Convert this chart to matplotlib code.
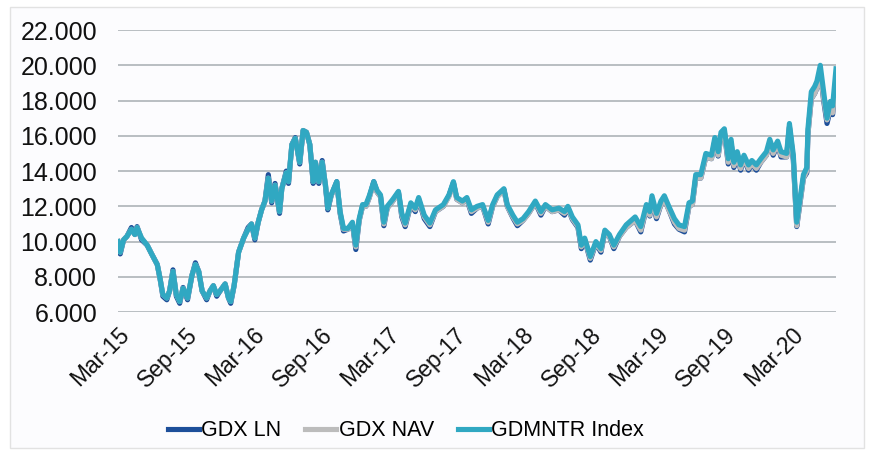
import numpy as np
import pandas as pd
import matplotlib
matplotlib.use("Agg")
import matplotlib.pyplot as plt
import matplotlib.dates as mdates
from matplotlib.patches import Rectangle

plt.rcParams["font.family"] = ["Liberation Sans", "DejaVu Sans"]

# months elapsed since 1 Mar 2015
months = [
    0, 0.2, 0.5, 0.8, 1.2, 1.5, 1.7, 2.1, 2.6, 3.0,
    3.5, 3.75, 4.0, 4.35, 4.6, 4.9, 5.2, 5.5, 5.8, 6.2,
    6.6, 6.9, 7.2, 7.5, 7.9, 8.2, 8.5, 8.8, 9.1, 9.55,
    9.85, 10.05, 10.35, 10.75, 11.2, 11.6, 11.9, 12.2, 12.5, 12.8,
    13.1, 13.4, 13.7, 14.0, 14.4, 14.6, 15.0, 15.2, 15.5, 15.8,
    16.2, 16.5, 16.8, 17.1, 17.4, 17.6, 17.9, 18.2, 18.5, 18.7,
    19.0, 19.5, 19.8, 20.1, 20.5, 20.9, 21.2, 21.5, 21.8, 22.1,
    22.4, 22.8, 23.1, 23.4, 23.7, 24.0, 24.5, 25.0, 25.3, 25.6,
    26.1, 26.5, 26.8, 27.3, 27.8, 28.3, 29.0, 29.5, 29.9, 30.2,
    30.7, 31.1, 31.5, 32.0, 32.5, 33.0, 33.4, 33.8, 34.4, 34.7,
    35.2, 35.6, 36.1, 36.6, 37.2, 37.7, 38.1, 38.7, 39.3, 39.8,
    40.1, 40.5, 41.0, 41.3, 41.6, 42.1, 42.6, 43.05, 43.4, 43.8,
    44.2, 44.7, 45.3, 46.1, 46.6, 47.1, 47.4, 47.6, 48.0, 48.4,
    48.7, 49.1, 49.6, 50.0, 50.5, 50.9, 51.2, 51.5, 51.95, 52.4,
    52.9, 53.2, 53.5, 53.75, 54.05, 54.4, 54.65, 54.9, 55.2, 55.5,
    55.8, 56.2, 56.5, 56.9, 57.3, 57.8, 58.1, 58.4, 58.8, 59.1,
    59.6, 59.85, 60.2, 60.5, 60.8, 61.1, 61.4, 61.5, 61.8, 62.1,
    62.3, 62.6, 62.9, 63.2, 63.5, 63.7, 64.0,
]

# levels in thousands (rebased to 10.000)
gdx_ln = [
    10.0, 9.3, 10.1, 10.3, 10.8, 10.4, 10.85, 10.1, 9.8, 9.3,
    8.7, 7.9, 6.9, 6.7, 7.2, 8.4, 6.9, 6.5, 7.4, 6.7,
    8.1, 8.8, 8.3, 7.2, 6.7, 7.2, 7.5, 6.9, 7.2, 7.6,
    6.8, 6.5, 7.5, 9.4, 10.2, 10.8, 11.0, 10.1, 11.1, 11.8,
    12.3, 13.8, 12.2, 13.3, 11.6, 13.0, 14.0, 13.3, 15.5, 15.9,
    14.4, 16.3, 16.2, 15.5, 13.3, 14.5, 13.3, 14.6, 13.1, 11.8,
    12.6, 13.4, 11.6, 10.6, 10.7, 11.0, 9.55, 11.2, 12.0, 12.0,
    12.5, 13.4, 12.8, 12.55, 10.9, 11.9, 12.3, 12.8, 11.4, 10.85,
    12.1, 11.7, 12.4, 11.3, 10.85, 11.7, 12.0, 12.6, 13.35, 12.4,
    12.2, 12.4, 11.6, 11.9, 12.0, 11.0, 12.0, 12.55, 12.95, 12.0,
    11.35, 10.9, 11.2, 11.6, 12.2, 11.5, 12.0, 11.7, 11.8, 11.5,
    11.9, 11.25, 10.8, 9.6, 10.1, 8.95, 9.9, 9.4, 10.55, 10.3,
    9.6, 10.3, 10.8, 11.2, 10.55, 11.9, 11.45, 12.4, 11.3, 12.1,
    12.4, 11.8, 11.0, 10.7, 10.55, 12.0, 12.1, 13.6, 13.6, 14.8,
    14.7, 15.7, 14.85, 16.0, 16.2, 14.4, 15.6, 14.2, 14.9, 14.05,
    14.7, 14.05, 14.4, 14.05, 14.5, 14.9, 15.6, 14.9, 15.5, 14.8,
    14.8, 16.5, 14.6, 10.85, 12.2, 13.6, 13.9, 16.1, 18.1, 18.4,
    18.7, 19.6, 18.0, 16.7, 17.5, 17.2, 19.2,
]

gdx_nav = [
    10.0, 9.4, 10.1, 10.3, 10.7, 10.4, 10.8, 10.2, 9.8, 9.3,
    8.7, 7.9, 7.0, 6.8, 7.2, 8.3, 7.0, 6.6, 7.35, 6.8,
    8.1, 8.7, 8.3, 7.2, 6.8, 7.2, 7.5, 7.0, 7.2, 7.6,
    6.8, 6.6, 7.5, 9.4, 10.2, 10.7, 11.0, 10.2, 11.1, 11.8,
    12.3, 13.6, 12.3, 13.2, 11.7, 13.0, 13.9, 13.4, 15.5, 15.85,
    14.5, 16.3, 16.2, 15.5, 13.4, 14.5, 13.4, 14.5, 13.2, 11.9,
    12.6, 13.35, 11.65, 10.7, 10.7, 11.0, 9.7, 11.2, 12.0, 12.0,
    12.5, 13.3, 12.8, 12.55, 11.0, 11.9, 12.3, 12.75, 11.5, 10.95,
    12.1, 11.8, 12.4, 11.4, 10.95, 11.7, 12.0, 12.55, 13.3, 12.4,
    12.2, 12.4, 11.7, 11.9, 12.0, 11.1, 12.0, 12.55, 12.9, 12.0,
    11.4, 11.0, 11.2, 11.6, 12.2, 11.6, 12.0, 11.7, 11.8, 11.6,
    11.9, 11.3, 10.85, 9.7, 10.1, 9.05, 9.9, 9.5, 10.55, 10.3,
    9.7, 10.3, 10.8, 11.2, 10.65, 11.9, 11.5, 12.4, 11.4, 12.1,
    12.4, 11.8, 11.1, 10.75, 10.65, 12.0, 12.1, 13.6, 13.6, 14.8,
    14.7, 15.7, 14.9, 16.0, 16.2, 14.5, 15.6, 14.3, 14.9, 14.15,
    14.7, 14.15, 14.4, 14.15, 14.5, 14.9, 15.6, 15.0, 15.5, 14.9,
    14.8, 16.5, 14.7, 10.9, 12.25, 13.6, 14.0, 16.1, 18.1, 18.4,
    18.7, 19.6, 18.1, 16.9, 17.5, 17.3, 19.2,
]

gdmntr = [
    10.0, 9.4, 10.1, 10.3, 10.7, 10.4, 10.8, 10.2, 9.8, 9.3,
    8.7, 7.9, 7.0, 6.8, 7.2, 8.3, 7.0, 6.6, 7.35, 6.8,
    8.1, 8.7, 8.3, 7.2, 6.8, 7.2, 7.5, 7.0, 7.2, 7.6,
    6.8, 6.6, 7.5, 9.4, 10.2, 10.7, 11.0, 10.2, 11.1, 11.8,
    12.3, 13.6, 12.3, 13.2, 11.7, 13.0, 13.9, 13.4, 15.5, 15.85,
    14.5, 16.3, 16.2, 15.5, 13.4, 14.5, 13.4, 14.5, 13.2, 11.9,
    12.65, 13.4, 11.7, 10.75, 10.75, 11.1, 9.8, 11.3, 12.1, 12.1,
    12.6, 13.4, 12.9, 12.65, 11.1, 12.0, 12.4, 12.85, 11.6, 11.05,
    12.2, 11.9, 12.5, 11.5, 11.05, 11.8, 12.1, 12.65, 13.4, 12.5,
    12.3, 12.5, 11.8, 12.0, 12.1, 11.2, 12.1, 12.65, 13.0, 12.1,
    11.5, 11.1, 11.3, 11.7, 12.3, 11.7, 12.1, 11.8, 11.9, 11.7,
    12.0, 11.4, 10.95, 9.8, 10.2, 9.15, 10.0, 9.6, 10.65, 10.4,
    9.8, 10.4, 10.95, 11.4, 10.85, 12.1, 11.7, 12.6, 11.6, 12.3,
    12.6, 12.0, 11.3, 10.95, 10.85, 12.2, 12.3, 13.8, 13.8, 15.0,
    14.9, 15.9, 15.1, 16.2, 16.4, 14.7, 15.8, 14.5, 15.1, 14.35,
    14.9, 14.35, 14.6, 14.35, 14.7, 15.1, 15.8, 15.2, 15.7, 15.1,
    15.0, 16.7, 14.9, 11.1, 12.45, 13.8, 14.2, 16.4, 18.5, 18.8,
    19.1, 20.0, 18.5, 17.0, 17.95, 17.7, 19.8,
]

labels = ["GDX LN", "GDX NAV", "GDMNTR Index"]
colors = ["#1d4f9a", "#bcbcbc", "#30a8c2"]
yticks = [6, 8, 10, 12, 14, 16, 18, 20, 22]

start = pd.Timestamp("2015-03-01")
dates = start + pd.to_timedelta(np.array(months) * 30.44, unit="D")
xticks = pd.date_range("2015-03-01", "2020-03-01", freq="6MS")

fig = plt.figure(figsize=(8.74, 4.55), dpi=100)
fig.patch.set_facecolor("white")
fig.patches.append(Rectangle((0.012, 0.015), 0.976, 0.97, transform=fig.transFigure,
                             facecolor="#fcfcfe", edgecolor="#e2e2e2", lw=1, zorder=-10))
ax = fig.add_axes([0.135, 0.314, 0.8215, 0.62])
ax.set_facecolor("none")

for vals, lab, c in zip([gdx_ln, gdx_nav, gdmntr], labels, colors):
    ax.plot(dates, vals, color=c, lw=3.7, label=lab, solid_joinstyle="round")

ax.set_ylim(6, 22)
ax.set_yticks(yticks)
ax.yaxis.set_major_formatter(plt.FuncFormatter(lambda v, p: f"{v:.3f}"))
ax.set_xlim(start, dates[-1])
ax.set_xticks(xticks)
ax.xaxis.set_major_formatter(mdates.DateFormatter("%b-%y"))
for s in ax.spines.values():
    s.set_visible(False)
ax.grid(axis="y", color="#b9bec2", lw=1.4)
ax.set_axisbelow(True)
ax.tick_params(axis="y", length=0, pad=15, labelsize=18, labelcolor="#111111")
ax.tick_params(axis="x", length=0, pad=8, labelsize=16.5, labelcolor="#111111")
for t in ax.get_xticklabels():
    t.set_rotation(45)
    t.set_ha("right")
    t.set_rotation_mode("anchor")

ax.legend(loc="center", bbox_to_anchor=(0.401, -0.42), ncol=3,
          frameon=False, fontsize=15.5, handlelength=1.45, handletextpad=0.1,
          columnspacing=1.1)

fig.savefig("out.png", dpi=100, facecolor="white")
